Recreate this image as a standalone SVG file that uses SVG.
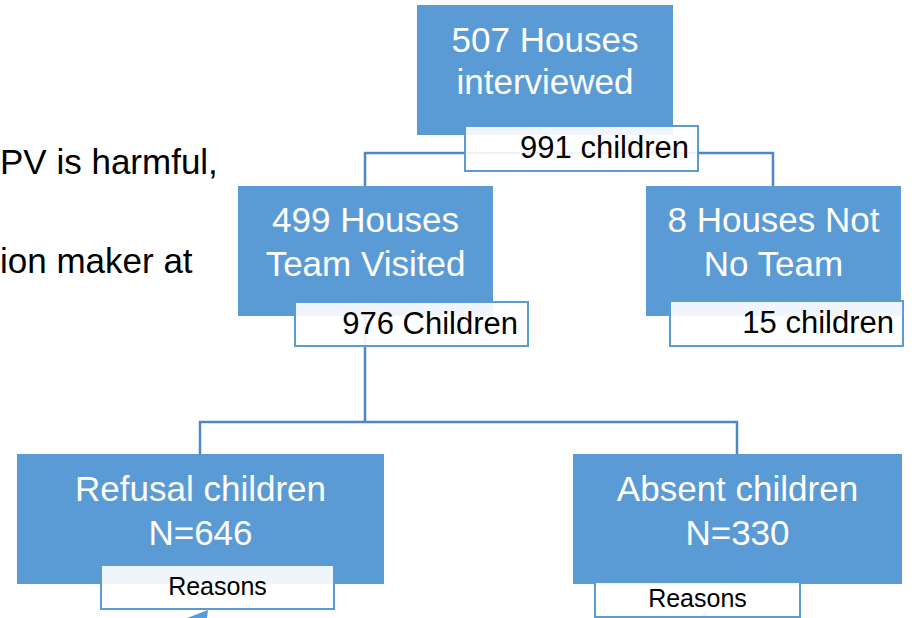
<svg xmlns="http://www.w3.org/2000/svg" width="912" height="618" viewBox="0 0 912 618">
<style>
.box{fill:#5B9BD5;}
.lbl{fill:#FFFFFF;fill-opacity:0.9;stroke:#5B9BD5;stroke-width:2;}
.conn{fill:none;stroke:#4F86C6;stroke-width:2.5;}
.bt{font-family:"Liberation Sans",Arial,sans-serif;font-size:35px;fill:#FFFFFF;text-anchor:middle;}
.lt{font-family:"Liberation Sans",Arial,sans-serif;font-size:31px;fill:#000000;text-anchor:end;}
.rt{font-family:"Liberation Sans",Arial,sans-serif;font-size:25px;fill:#000000;text-anchor:middle;}
.side{font-family:"Liberation Sans",Arial,sans-serif;font-size:35px;fill:#000000;}
.tip{fill:#5B9BD5;}
</style>
<rect width="912" height="618" fill="#FFFFFF"/>
<g id="side-text">
<text class="side" x="0" y="174">PV is harmful,</text>
<text class="side" x="0" y="273">ion maker at</text>
</g>
<g id="connectors">
<path class="conn" d="M545,135 V153"/>
<path class="conn" d="M365,186 V153 H773 V186"/>
<path class="conn" d="M365,316 V422"/>
<path class="conn" d="M200,454 V422 H737 V454"/>
<polygon class="tip" points="187,618 208,610 207,618"/>
<polygon class="tip" points="699,618 705,611 708,614 707,618"/>
</g>
<g id="node-507">
<rect class="box" x="417" y="5" width="256" height="130"/>
<text class="bt" x="545" y="52">507 Houses</text>
<text class="bt" x="545" y="94">interviewed</text>
<rect class="lbl" x="465" y="126" width="233" height="45"/>
<text class="lt" x="689" y="158">991 children</text>
</g>
<g id="node-499">
<rect class="box" x="238" y="186" width="255" height="130"/>
<text class="bt" x="365.5" y="232">499 Houses</text>
<text class="bt" x="365.5" y="276">Team Visited</text>
<rect class="lbl" x="295" y="302" width="233" height="44"/>
<text class="lt" x="518" y="334">976 Children</text>
</g>
<g id="node-8">
<rect class="box" x="646" y="186" width="255" height="130"/>
<text class="bt" x="773.5" y="232">8 Houses Not</text>
<text class="bt" x="773.5" y="276">No Team</text>
<rect class="lbl" x="670" y="301" width="233" height="45"/>
<text class="lt" x="894" y="333">15 children</text>
</g>
<g id="node-refusal">
<rect class="box" x="17" y="454" width="367" height="130"/>
<text class="bt" x="200.5" y="501">Refusal children</text>
<text class="bt" x="200.5" y="545">N=646</text>
<rect class="lbl" x="101" y="565" width="233" height="44"/>
<text class="rt" x="217.5" y="595">Reasons</text>
</g>
<g id="node-absent">
<rect class="box" x="573" y="454" width="329" height="130"/>
<text class="bt" x="737.5" y="501">Absent children</text>
<text class="bt" x="737.5" y="545">N=330</text>
<rect class="lbl" x="595" y="582" width="205" height="35"/>
<text class="rt" x="697.5" y="607">Reasons</text>
</g>
</svg>
